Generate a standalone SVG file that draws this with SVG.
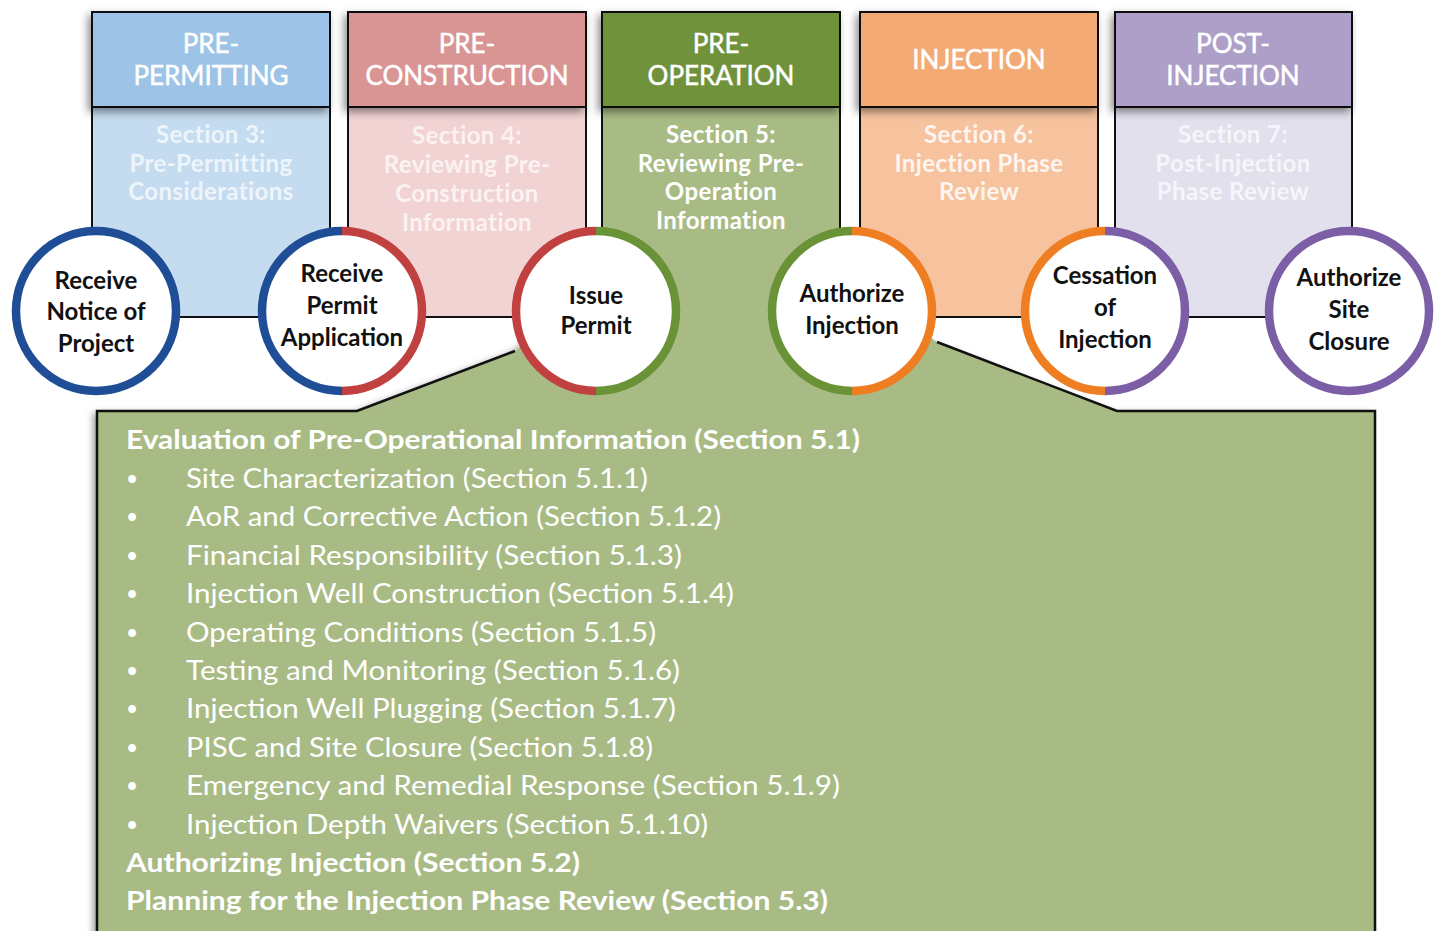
<svg xmlns="http://www.w3.org/2000/svg" width="1442" height="931" viewBox="0 0 1442 931">
<defs>
<filter id="sh" x="-10%" y="-10%" width="120%" height="130%">
<feDropShadow dx="-3" dy="4" stdDeviation="4" flood-color="#000" flood-opacity="0.45"/>
</filter>
<filter id="sh2" x="-5%" y="-5%" width="110%" height="110%">
<feDropShadow dx="-4" dy="2" stdDeviation="3.5" flood-color="#000" flood-opacity="0.4"/>
</filter>
</defs>
<style>
.col{stroke:#111;stroke-width:2}
.hdr{font-family:Lato,"Open Sans",sans-serif;font-size:26px;fill:#fff;stroke:#fff;stroke-width:0.5;text-anchor:middle}
.sec{font-family:Lato,"Open Sans",sans-serif;font-size:24px;font-weight:700;fill:#fff;text-anchor:middle;letter-spacing:0.4px}
.cir{fill:#fff}
.arc{fill:none;stroke-width:8.5}
.lbl{font-family:Lato,"Open Sans",sans-serif;font-size:24px;font-weight:700;fill:#111;text-anchor:middle}
.t{font-family:Lato,"Open Sans",sans-serif;font-size:27px;fill:#fff}
.bu{font-family:Lato,"Open Sans",sans-serif;font-size:21px;fill:#fff}
.b{font-weight:700}
.edge{fill:none;stroke:#111;stroke-width:2.5;stroke-linejoin:miter}
</style>
<rect width="1442" height="931" fill="#fff"/>

<!-- column bodies -->
<g id="col1">
<rect class="col" x="92" y="107" width="238" height="210" fill="#c5dcf0"/>
</g>
<g id="col2">
<rect class="col" x="348" y="107" width="238" height="210" fill="#f2d3d3"/>
</g>
<g id="col4">
<rect class="col" x="860" y="107" width="238" height="210" fill="#f7c39e"/>
</g>
<g id="col5">
<rect class="col" x="1115" y="107" width="237" height="210" fill="#e3e0ed"/>
</g>

<!-- callout -->
<g id="callout">
<polygon points="515,351 357,411 97,411 97,940 1375,940 1375,411 1117,411 937,342 840,279 602,279" fill="#a9bb85" filter="url(#sh2)"/>
<rect x="602" y="107" width="238" height="173" fill="#a9bb85"/>
<line x1="602" y1="107" x2="602" y2="280" stroke="#111" stroke-width="2"/>
<line x1="840" y1="107" x2="840" y2="280" stroke="#111" stroke-width="2"/>
<polyline class="edge" points="515,351 357,411 97,411 97,940"/>
<polyline class="edge" points="1375,940 1375,411 1117,411 937,342"/>
</g>

<!-- headers -->
<g id="hdr1">
<rect class="col" x="92" y="12" width="238" height="95" fill="#9dc3e6" filter="url(#sh)"/>
<text class="hdr" x="211" y="53">PRE-</text>
<text class="hdr" x="211" y="85">PERMITTING</text>
</g>
<g id="hdr2">
<rect class="col" x="348" y="12" width="238" height="95" fill="#d99594" filter="url(#sh)"/>
<text class="hdr" x="467" y="53">PRE-</text>
<text class="hdr" x="467" y="85">CONSTRUCTION</text>
</g>
<g id="hdr3">
<rect class="col" x="602" y="12" width="238" height="95" fill="#6f923a" filter="url(#sh)"/>
<text class="hdr" x="721" y="53">PRE-</text>
<text class="hdr" x="721" y="85">OPERATION</text>
</g>
<g id="hdr4">
<rect class="col" x="860" y="12" width="238" height="95" fill="#f4aa74" filter="url(#sh)"/>
<text class="hdr" x="979" y="69">INJECTION</text>
</g>
<g id="hdr5">
<rect class="col" x="1115" y="12" width="237" height="95" fill="#ae9fc8" filter="url(#sh)"/>
<text class="hdr" x="1233" y="53">POST-</text>
<text class="hdr" x="1233" y="85">INJECTION</text>
</g>

<!-- section texts -->
<g id="sec3">
<text class="sec" x="211" y="143" fill-opacity="0.72">Section 3:</text>
<text class="sec" x="211" y="172" fill-opacity="0.72">Pre-Permitting</text>
<text class="sec" x="211" y="200" fill-opacity="0.72">Considerations</text>
</g>
<g id="sec4">
<text class="sec" x="467" y="144" fill-opacity="0.72">Section 4:</text>
<text class="sec" x="467" y="173" fill-opacity="0.72">Reviewing Pre-</text>
<text class="sec" x="467" y="202" fill-opacity="0.72">Construction</text>
<text class="sec" x="467" y="231" fill-opacity="0.72">Information</text>
</g>
<g id="sec5">
<text class="sec" x="721" y="143">Section 5:</text>
<text class="sec" x="721" y="172">Reviewing Pre-</text>
<text class="sec" x="721" y="200">Operation</text>
<text class="sec" x="721" y="229">Information</text>
</g>
<g id="sec6">
<text class="sec" x="979" y="143" fill-opacity="0.85">Section 6:</text>
<text class="sec" x="979" y="172" fill-opacity="0.85">Injection Phase</text>
<text class="sec" x="979" y="200" fill-opacity="0.85">Review</text>
</g>
<g id="sec7">
<text class="sec" x="1233" y="143" fill-opacity="0.7">Section 7:</text>
<text class="sec" x="1233" y="172" fill-opacity="0.7">Post-Injection</text>
<text class="sec" x="1233" y="200" fill-opacity="0.7">Phase Review</text>
</g>

<!-- circles -->
<g id="c1">
<circle class="cir" cx="96" cy="311" r="80"/>
<circle class="arc" cx="96" cy="311" r="80" stroke="#1f4e96"/>
<text class="lbl" x="96" y="289">Receive</text>
<text class="lbl" x="96" y="320">Notice of</text>
<text class="lbl" x="96" y="352">Project</text>
</g>
<g id="c2">
<circle class="cir" cx="342" cy="311" r="80"/>
<path class="arc" d="M342,231 A80,80 0 0 0 342,391" stroke="#1f4e96"/>
<path class="arc" d="M342,231 A80,80 0 0 1 342,391" stroke="#c0413f"/>
<text class="lbl" x="342" y="282">Receive</text>
<text class="lbl" x="342" y="314">Permit</text>
<text class="lbl" x="342" y="346">Application</text>
</g>
<g id="c3">
<circle class="cir" cx="596" cy="311" r="80"/>
<path class="arc" d="M596,231 A80,80 0 0 0 596,391" stroke="#c0413f"/>
<path class="arc" d="M596,231 A80,80 0 0 1 596,391" stroke="#6a9237"/>
<text class="lbl" x="596" y="304">Issue</text>
<text class="lbl" x="596" y="334">Permit</text>
</g>
<g id="c4">
<circle class="cir" cx="852" cy="311" r="80"/>
<path class="arc" d="M852,231 A80,80 0 0 0 852,391" stroke="#6a9237"/>
<path class="arc" d="M852,231 A80,80 0 0 1 852,391" stroke="#ef7d22"/>
<text class="lbl" x="852" y="302">Authorize</text>
<text class="lbl" x="852" y="334">Injection</text>
</g>
<g id="c5">
<circle class="cir" cx="1105" cy="311" r="80"/>
<path class="arc" d="M1105,231 A80,80 0 0 0 1105,391" stroke="#ef7d22"/>
<path class="arc" d="M1105,231 A80,80 0 0 1 1105,391" stroke="#7b5ea6"/>
<text class="lbl" x="1105" y="284">Cessation</text>
<text class="lbl" x="1105" y="316">of</text>
<text class="lbl" x="1105" y="348">Injection</text>
</g>
<g id="c6">
<circle class="cir" cx="1349" cy="311" r="80"/>
<circle class="arc" cx="1349" cy="311" r="80" stroke="#7b5ea6"/>
<text class="lbl" x="1349" y="286">Authorize</text>
<text class="lbl" x="1349" y="318">Site</text>
<text class="lbl" x="1349" y="350">Closure</text>
</g>

<!-- callout text -->
<g id="callout-text">
<text class="t b" x="126" y="449" textLength="734" lengthAdjust="spacingAndGlyphs">Evaluation of Pre-Operational Information (Section 5.1)</text>
<text class="bu" x="126" y="486">•</text>
<text class="t" x="186" y="488" textLength="462" lengthAdjust="spacingAndGlyphs">Site Characterization (Section 5.1.1)</text>
<text class="bu" x="126" y="524">•</text>
<text class="t" x="186" y="526" textLength="535" lengthAdjust="spacingAndGlyphs">AoR and Corrective Action (Section 5.1.2)</text>
<text class="bu" x="126" y="563">•</text>
<text class="t" x="186" y="565" textLength="496" lengthAdjust="spacingAndGlyphs">Financial Responsibility (Section 5.1.3)</text>
<text class="bu" x="126" y="601">•</text>
<text class="t" x="186" y="603" textLength="548" lengthAdjust="spacingAndGlyphs">Injection Well Construction (Section 5.1.4)</text>
<text class="bu" x="126" y="640">•</text>
<text class="t" x="186" y="642" textLength="470" lengthAdjust="spacingAndGlyphs">Operating Conditions (Section 5.1.5)</text>
<text class="bu" x="126" y="678">•</text>
<text class="t" x="186" y="680" textLength="494" lengthAdjust="spacingAndGlyphs">Testing and Monitoring (Section 5.1.6)</text>
<text class="bu" x="126" y="716">•</text>
<text class="t" x="186" y="718" textLength="490" lengthAdjust="spacingAndGlyphs">Injection Well Plugging (Section 5.1.7)</text>
<text class="bu" x="126" y="755">•</text>
<text class="t" x="186" y="757" textLength="467" lengthAdjust="spacingAndGlyphs">PISC and Site Closure (Section 5.1.8)</text>
<text class="bu" x="126" y="793">•</text>
<text class="t" x="186" y="795" textLength="654" lengthAdjust="spacingAndGlyphs">Emergency and Remedial Response (Section 5.1.9)</text>
<text class="bu" x="126" y="832">•</text>
<text class="t" x="186" y="834" textLength="522" lengthAdjust="spacingAndGlyphs">Injection Depth Waivers (Section 5.1.10)</text>
<text class="t b" x="126" y="872" textLength="454" lengthAdjust="spacingAndGlyphs">Authorizing Injection (Section 5.2)</text>
<text class="t b" x="126" y="910" textLength="702" lengthAdjust="spacingAndGlyphs">Planning for the Injection Phase Review (Section 5.3)</text>
</g>
</svg>
